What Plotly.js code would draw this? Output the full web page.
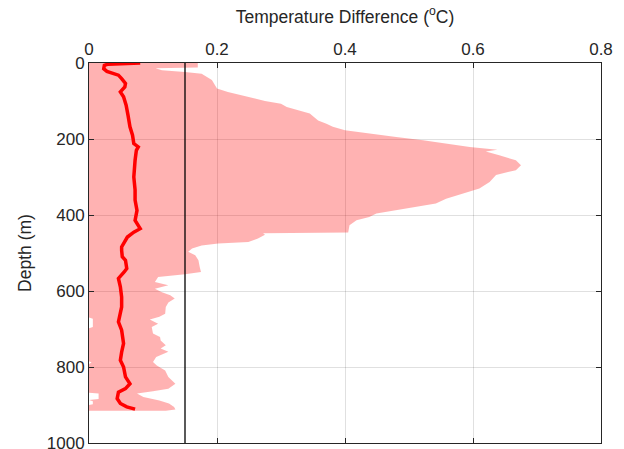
<!DOCTYPE html>
<html>
<head>
<meta charset="utf-8">
<script src="https://cdn.plot.ly/plotly-3.0.1.min.js"></script>
<style>html,body{margin:0;padding:0;background:#fff;}#chart{width:624px;height:449px;}</style>
</head>
<body>
<div id="chart"></div>
<script>
// Upper envelope of the spread (depth in m, temperature difference in °C)
const upperDepth = [0,12,14,19,24,28,45,67,76,85,94,100,107,116,133,151,160,168,177,186,195,203,212,221,228,233,243,256,269,282,295,313,330,344,357,370,381,388,396,405,414,427,440,446,448,452,462,471,475,480,488,497,506,519,537,550,556,563,576,585,594,603,611,620,630,642,660,668,675,686,695,712,721,730,743,751,760,774,787,796,809,826,844,857,864,870,879,888,896,905,912,915];
const upperTemp  = [0.17,0.17,0.104,0.114,0.150,0.176,0.192,0.200,0.217,0.238,0.260,0.275,0.300,0.309,0.345,0.358,0.371,0.381,0.400,0.438,0.480,0.522,0.558,0.595,0.638,0.620,0.641,0.667,0.675,0.667,0.636,0.626,0.610,0.584,0.558,0.542,0.501,0.480,0.449,0.438,0.418,0.407,0.405,0.405,0.272,0.275,0.264,0.249,0.202,0.176,0.161,0.155,0.166,0.171,0.173,0.175,0.150,0.108,0.103,0.124,0.103,0.114,0.127,0.134,0.124,0.120,0.119,0.110,0.095,0.108,0.098,0.100,0.111,0.112,0.120,0.112,0.124,0.105,0.100,0.106,0.119,0.124,0.135,0.124,0.100,0.075,0.085,0.110,0.125,0.133,0.135,0.120];
// Lower envelope
const lowerDepth = [0,670,673,695,698,785,788,792,868,870,884,887,890,898,900,915];
const lowerTemp  = [0,0,0.006,0.006,0,0,0.004,0,0,0.015,0.015,0,0.006,0.006,0,0];
// Mean profile
const meanDepth = [0,1,3,6,15,22,32,41,54,63,76,89,111,138,168,190,212,221,230,256,300,334,361,388,414,436,445,458,467,484,493,510,519,541,550,567,589,616,642,660,681,703,738,761,782,800,826,844,857,866,883,896,905,911];
const meanTemp  = [0.080,0.050,0.030,0.024,0.023,0.028,0.046,0.051,0.057,0.056,0.049,0.054,0.058,0.061,0.064,0.068,0.070,0.077,0.074,0.072,0.070,0.072,0.072,0.075,0.072,0.080,0.070,0.060,0.057,0.051,0.051,0.052,0.057,0.059,0.055,0.046,0.049,0.051,0.051,0.049,0.046,0.051,0.054,0.051,0.049,0.054,0.057,0.064,0.057,0.046,0.044,0.049,0.059,0.072];
// Threshold line
const thresholdTemp = 0.15;
const thresholdDepth = [0, 1000];
const xTicks = [0, 0.2, 0.4, 0.6, 0.8];
const yTicks = [0, 200, 400, 600, 800, 1000];

const polyX = upperTemp.concat(lowerTemp.slice().reverse());
const polyY = upperDepth.concat(lowerDepth.slice().reverse());

const traces = [
  {x: polyX, y: polyY, type: 'scatter', mode: 'lines', fill: 'toself',
   fillcolor: 'rgba(255,0,0,0.3)', line: {width: 0, color: 'rgba(0,0,0,0)'}, hoverinfo: 'skip'},
  {x: [thresholdTemp, thresholdTemp], y: thresholdDepth, type: 'scatter', mode: 'lines',
   line: {color: '#000000', width: 1.3}},
  {x: meanTemp, y: meanDepth, type: 'scatter', mode: 'lines',
   line: {color: '#ff0000', width: 3.5}}
];

const tickFont = {family: 'Liberation Sans, Arial, sans-serif', size: 17, color: '#262626'};
const titleFont = {family: 'Liberation Sans, Arial, sans-serif', size: 17.5, color: '#262626'};
const layout = {
  width: 624, height: 449,
  margin: {l: 89, r: 23, t: 63, b: 6},
  paper_bgcolor: '#ffffff', plot_bgcolor: '#ffffff',
  showlegend: false,
  font: tickFont,
  xaxis: {
    side: 'top', range: [0, 0.8], tickvals: xTicks, ticktext: xTicks.map(String),
    ticks: 'inside', ticklen: 5, tickcolor: '#262626',
    showline: true, linecolor: '#262626', linewidth: 1, mirror: 'ticks',
    showgrid: true, gridcolor: 'rgba(0,0,0,0.12)', gridwidth: 1, zeroline: false,
    tickfont: tickFont,
    title: {text: 'Temperature Difference (<sup>o</sup>C)', font: titleFont, standoff: 12}
  },
  yaxis: {
    range: [1000, 0], tickvals: yTicks, ticktext: yTicks.map(String),
    ticks: 'inside', ticklen: 5, tickcolor: '#262626', ticklabeloverflow: 'allow',
    showline: true, linecolor: '#262626', linewidth: 1, mirror: 'ticks',
    showgrid: true, gridcolor: 'rgba(0,0,0,0.12)', gridwidth: 1, zeroline: false,
    tickfont: tickFont,
    title: {text: 'Depth (m)', font: titleFont, standoff: 10}
  }
};
Plotly.newPlot('chart', traces, layout, {displayModeBar: false, staticPlot: true});
</script>
</body>
</html>
